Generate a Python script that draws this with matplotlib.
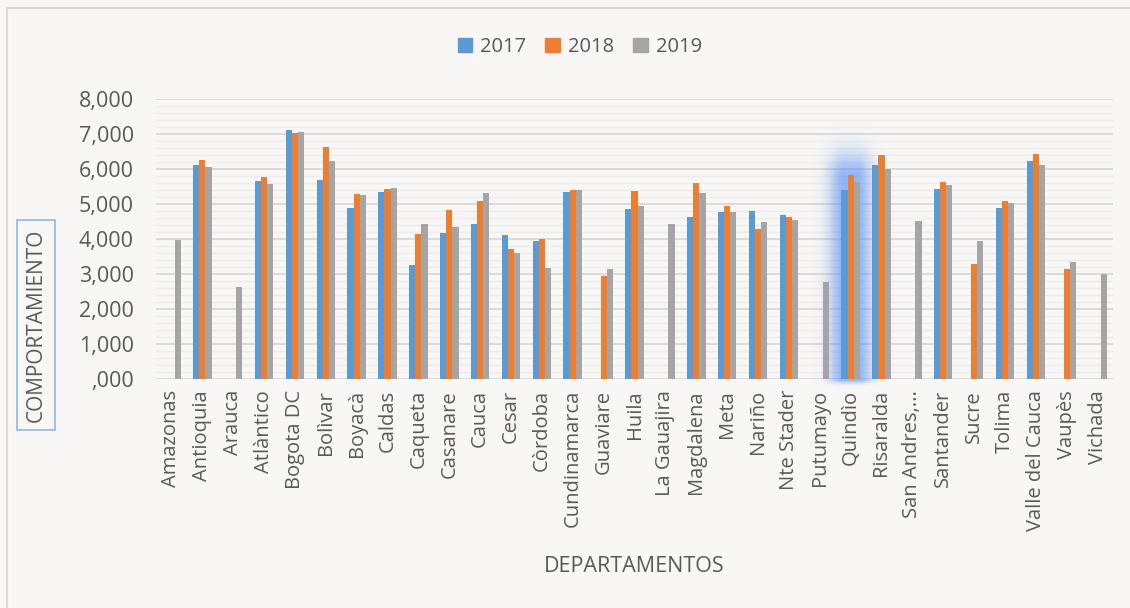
import numpy as np
import matplotlib
matplotlib.use("Agg")
import matplotlib.pyplot as plt
from matplotlib.patches import Rectangle, Patch
from matplotlib.ticker import MultipleLocator

plt.rcParams['font.family'] = ['Open Sans', 'DejaVu Sans']

nan = np.nan
departamentos = ["Amazonas", "Antioquia", "Arauca", "Atlàntico", "Bogota DC", "Bolìvar",
                 "Boyacà", "Caldas", "Caqueta", "Casanare", "Cauca", "Cesar", "Còrdoba",
                 "Cundinamarca", "Guaviare", "Huila", "La Gauajira", "Magdalena", "Meta",
                 "Nariño", "Nte Stader", "Putumayo", "Quindìo", "Risaralda", "San Andres,...",
                 "Santander", "Sucre", "Tolima", "Valle del Cauca", "Vaupès", "Vichada"]

v2017 = [nan, 6090, nan, 5640, 7110, 5670, 4880, 5320, 3260, 4150, 4430, 4100, 3930,
         5340, nan, 4860, nan, 4620, 4760, 4790, 4670, nan, 5390, 6100, nan, 5420,
         nan, 4880, 6220, nan, nan]
v2018 = [nan, 6250, nan, 5760, 7010, 6630, 5290, 5430, 4130, 4810, 5090, 3710, 4000,
         5400, 2950, 5370, nan, 5600, 4920, 4290, 4630, nan, 5810, 6380, nan, 5610,
         3280, 5070, 6410, 3130, nan]
v2019 = [3970, 6040, 2620, 5570, 7040, 6220, 5240, 5440, 4430, 4340, 5310, 3580, 3180,
         5400, 3140, 4940, 4420, 5310, 4760, 4470, 4530, 2760, 5620, 6000, 4520, 5530,
         3930, 5010, 6090, 3340, 2990]

series = ["2017", "2018", "2019"]
colores = ["#5b9bd5", "#ed7d31", "#a5a5a5"]
ytick_labels = [",000", "1,000", "2,000", "3,000", "4,000", "5,000", "6,000", "7,000", "8,000"]

bg = "#f8f7f5"
txt = "#595959"

fig = plt.figure(figsize=(11.3, 6.08), dpi=100, facecolor=bg)
ax = fig.add_axes([156/1130, 1-379/608, (1113-156)/1130, (379-98.5)/608])
ax.set_facecolor(bg)

x = np.arange(len(departamentos))
w = 0.2

# soft selection glow around the Quindio group
sel = departamentos.index("Quindìo")
gx = np.linspace(sel-1.6, sel+1.6, 320)
gy = np.linspace(-300, 8000, 500)
GX, GY = np.meshgrid(gx, gy)
dx = np.clip(np.abs(GX-sel)-0.2, 0, None)/0.5
dy = np.clip(GY-5700, 0, None)/750
dy = dy + np.clip(-GY, 0, None)/110
d2 = dx**2+dy**2
glow = np.zeros(GX.shape+(4,))
glow[..., 0], glow[..., 1], glow[..., 2] = 0.32, 0.54, 0.95
glow[..., 3] = 0.6*np.exp(-d2)
ax.imshow(glow, extent=(gx[0], gx[-1], gy[0], gy[-1]), origin="lower", aspect="auto",
          zorder=1, interpolation="bilinear", clip_on=False)

for i, (vals, c) in enumerate(zip([v2017, v2018, v2019], colores)):
    ax.bar(x+(i-1)*w, vals, width=w, color=c, zorder=3, label=series[i])

ax.set_xlim(-0.5, len(departamentos)-0.5)
ax.set_ylim(0, 8000)
ax.yaxis.set_minor_locator(MultipleLocator(200))
ax.set_yticks(np.arange(0, 8001, 1000))
ax.set_yticklabels(ytick_labels)
ax.grid(axis="y", which="major", color="#d9d9d9", lw=1.3, zorder=0)
ax.grid(axis="y", which="minor", color="#ececec", lw=0.9, zorder=0)
ax.set_axisbelow(True)
ax.set_xticks(x)
ax.set_xticklabels(departamentos, rotation=90, fontsize=14.5, color=txt)
ax.tick_params(axis="y", which="both", length=0, labelsize=15.5, labelcolor=txt, pad=16)
ax.tick_params(axis="x", length=0, pad=8)
for s in ax.spines.values():
    s.set_visible(False)

handles = [Patch(color=c, label=s) for c, s in zip(colores, series)]
fig.legend(handles=handles, loc="center", bbox_to_anchor=(0.513, 1-47/608), ncol=3,
           frameon=False, fontsize=14.5, labelcolor=txt, handlelength=0.72,
           handleheight=0.72, handletextpad=0.4, columnspacing=0.95)

fig.text(36/1130, 1-325/608, "COMPORTAMIENTO", rotation=90, ha="center", va="center",
         fontsize=15, color=txt,
         bbox=dict(boxstyle="square,pad=0.42", fc="none", ec="#8fb8e8", lw=1.2))
fig.text(634/1130, 1-566/608, "DEPARTAMENTOS", ha="center", va="center",
         fontsize=15.5, color=txt)

fig.patches.append(Rectangle((7/1130, -0.1), 1.2, 1-8/608+0.1, transform=fig.transFigure,
                             fill=False, ec="#d9d9d9", lw=1.5))

fig.savefig("out.png", dpi=100, facecolor=bg)
